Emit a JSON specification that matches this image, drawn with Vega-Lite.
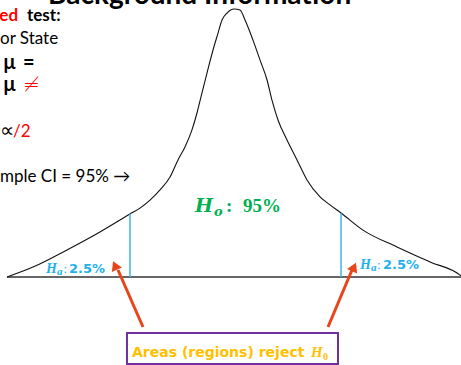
{
  "$schema": "https://vega.github.io/schema/vega-lite/v6.json",
  "width": 461,
  "height": 365,
  "autosize": {"type": "none"},
  "padding": 0,
  "background": "#ffffff",
  "config": {"view": {"stroke": null}},
  "datasets": {
    "curve": [
      {"z": -4.247, "density": 0.0},
      {"z": -3.764, "density": 0.037},
      {"z": -3.132, "density": 0.101},
      {"z": -2.519, "density": 0.168},
      {"z": -1.961, "density": 0.235},
      {"z": -1.775, "density": 0.257},
      {"z": -1.589, "density": 0.287},
      {"z": -1.403, "density": 0.325},
      {"z": -1.217, "density": 0.373},
      {"z": -1.069, "density": 0.437},
      {"z": -0.939, "density": 0.485},
      {"z": -0.809, "density": 0.549},
      {"z": -0.716, "density": 0.612},
      {"z": -0.623, "density": 0.687},
      {"z": -0.53, "density": 0.761},
      {"z": -0.418, "density": 0.847},
      {"z": -0.325, "density": 0.91},
      {"z": -0.251, "density": 0.959},
      {"z": -0.158, "density": 0.985},
      {"z": -0.028, "density": 1.0},
      {"z": 0.084, "density": 0.996},
      {"z": 0.177, "density": 0.959},
      {"z": 0.325, "density": 0.884},
      {"z": 0.455, "density": 0.81},
      {"z": 0.586, "density": 0.735},
      {"z": 0.678, "density": 0.66},
      {"z": 0.79, "density": 0.586},
      {"z": 0.957, "density": 0.511},
      {"z": 1.143, "density": 0.437},
      {"z": 1.329, "density": 0.362},
      {"z": 1.571, "density": 0.299},
      {"z": 1.757, "density": 0.269},
      {"z": 1.961, "density": 0.239},
      {"z": 2.37, "density": 0.175},
      {"z": 3.002, "density": 0.112},
      {"z": 3.615, "density": 0.056},
      {"z": 4.173, "density": 0.007},
      {"z": 4.191, "density": 0.004}
    ],
    "baseline": [{"z": -4.247, "z2": 4.191, "density": 0}],
    "cutoffs": [
      {"z": -1.961, "density": 0, "top": 0.236},
      {"z": 1.961, "density": 0, "top": 0.238}
    ],
    "arrows": [
      {"z": -1.719, "v": -0.1866, "z2": -2.184, "v2": 0.0261},
      {"z": 1.719, "v": -0.1866, "z2": 2.165, "v2": 0.0261}
    ],
    "headLeft": [{"z": -2.24, "v": 0.0429}],
    "headRight": [{"z": 2.203, "v": 0.0373}],
    "box": [{"z": -2.017, "z2": 1.905, "v": -0.209, "v2": -0.3246}],
    "title": [{"text": "Background Information", "z": -3.485, "v": 1.0187}],
    "body": [
      {"text": "or State", "z": -4.377, "v": 0.8694, "tone": "plain"},
      {"text": "/2", "z": -4.136, "v": 0.5224, "tone": "emphasis"},
      {"text": "mple CI = 95% →", "z": -4.377, "v": 0.3545, "tone": "plain"}
    ],
    "bodyBold": [
      {"text": "ed", "z": -4.39, "v": 0.9552, "tone": "emphasis"},
      {"text": "test:", "z": -3.875, "v": 0.9552, "tone": "plain"}
    ],
    "hypBold": [
      {"text": "µ", "z": -4.322, "v": 0.7761, "tone": "plain"},
      {"text": "=", "z": -3.95, "v": 0.7761, "tone": "plain"},
      {"text": "µ", "z": -4.322, "v": 0.694, "tone": "plain"}
    ],
    "symbols": [
      {"text": "≠", "z": -3.95, "v": 0.694, "tone": "emphasis"},
      {"text": "∝", "z": -4.377, "v": 0.5224, "tone": "plain"}
    ],
    "tailLabels": [
      {"side": "left", "part": "symbol", "text": "H", "z": -3.522, "v": 0.0149},
      {"side": "left", "part": "sub", "text": "a", "z": -3.318, "v": 0.0075},
      {"side": "left", "part": "colon", "text": ":", "z": -3.197, "v": 0.0149},
      {"side": "left", "part": "value", "text": "2.5%", "z": -3.095, "v": 0.0149},
      {"side": "right", "part": "symbol", "text": "H", "z": 2.314, "v": 0.0299},
      {"side": "right", "part": "sub", "text": "a", "z": 2.519, "v": 0.0224},
      {"side": "right", "part": "colon", "text": ":", "z": 2.63, "v": 0.0299},
      {"side": "right", "part": "value", "text": "2.5%", "z": 2.742, "v": 0.0299}
    ],
    "centerLabel": [
      {"part": "symbol", "text": "H", "z": -0.7528, "v": 0.2425},
      {"part": "sub", "text": "o", "z": -0.4, "v": 0.2276},
      {"part": "colon", "text": ":", "z": -0.1766, "v": 0.2425},
      {"part": "value", "text": "95%", "z": 0.1394, "v": 0.2425}
    ],
    "callout": [
      {"part": "words", "text": "Areas (regions) reject", "z": -1.9238, "v": -0.2985},
      {"part": "symbol", "text": "H", "z": 1.4033, "v": -0.2985},
      {"part": "sub", "text": "0", "z": 1.6264, "v": -0.3097}
    ]
  },
  "layer": [
    {
      "data": {"name": "baseline"},
      "mark": {"type": "rule", "color": "#333333", "strokeWidth": 1.6},
      "encoding": {
        "x": {"field": "z", "type": "quantitative", "scale": {"domain": [-4.377, 4.191], "nice": false, "zero": false}, "axis": null},
        "x2": {"field": "z2"},
        "y": {"field": "density", "type": "quantitative", "scale": {"domain": [-0.3284, 1.0336], "nice": false, "zero": false}, "axis": null}
      }
    },
    {
      "data": {"name": "curve"},
      "mark": {"type": "line", "color": "#111111", "strokeWidth": 1.1, "interpolate": "monotone"},
      "encoding": {
        "x": {"field": "z", "type": "quantitative", "scale": {"domain": [-4.377, 4.191], "nice": false, "zero": false}, "axis": null},
        "y": {"field": "density", "type": "quantitative", "scale": {"domain": [-0.3284, 1.0336], "nice": false, "zero": false}, "axis": null}
      }
    },
    {
      "data": {"name": "cutoffs"},
      "mark": {"type": "rule", "color": "#3db5e6", "strokeWidth": 1.5},
      "encoding": {
        "x": {"field": "z", "type": "quantitative", "scale": {"domain": [-4.377, 4.191], "nice": false, "zero": false}, "axis": null},
        "y": {"field": "density", "type": "quantitative", "scale": {"domain": [-0.3284, 1.0336], "nice": false, "zero": false}, "axis": null},
        "y2": {"field": "top"}
      }
    },
    {
      "data": {"name": "arrows"},
      "mark": {"type": "rule", "color": "#e8451a", "strokeWidth": 3},
      "encoding": {
        "x": {"field": "z", "type": "quantitative", "scale": {"domain": [-4.377, 4.191], "nice": false, "zero": false}, "axis": null},
        "x2": {"field": "z2"},
        "y": {"field": "v", "type": "quantitative", "scale": {"domain": [-0.3284, 1.0336], "nice": false, "zero": false}, "axis": null},
        "y2": {"field": "v2"}
      }
    },
    {
      "data": {"name": "headLeft"},
      "mark": {"type": "point", "shape": "triangle-up", "filled": true, "size": 120, "angle": -24, "color": "#e8451a", "opacity": 1},
      "encoding": {
        "x": {"field": "z", "type": "quantitative", "scale": {"domain": [-4.377, 4.191], "nice": false, "zero": false}, "axis": null},
        "y": {"field": "v", "type": "quantitative", "scale": {"domain": [-0.3284, 1.0336], "nice": false, "zero": false}, "axis": null}
      }
    },
    {
      "data": {"name": "headRight"},
      "mark": {"type": "point", "shape": "triangle-up", "filled": true, "size": 120, "angle": 24, "color": "#e8451a", "opacity": 1},
      "encoding": {
        "x": {"field": "z", "type": "quantitative", "scale": {"domain": [-4.377, 4.191], "nice": false, "zero": false}, "axis": null},
        "y": {"field": "v", "type": "quantitative", "scale": {"domain": [-0.3284, 1.0336], "nice": false, "zero": false}, "axis": null}
      }
    },
    {
      "data": {"name": "box"},
      "mark": {"type": "rect", "fill": "#ffffff", "stroke": "#7030a0", "strokeWidth": 2},
      "encoding": {
        "x": {"field": "z", "type": "quantitative", "scale": {"domain": [-4.377, 4.191], "nice": false, "zero": false}, "axis": null},
        "x2": {"field": "z2"},
        "y": {"field": "v", "type": "quantitative", "scale": {"domain": [-0.3284, 1.0336], "nice": false, "zero": false}, "axis": null},
        "y2": {"field": "v2"}
      }
    },
    {
      "data": {"name": "title"},
      "mark": {"type": "text", "font": "Lato", "fontWeight": "bold", "fontSize": 28, "align": "left", "baseline": "alphabetic", "color": "#000000"},
      "encoding": {
        "x": {"field": "z", "type": "quantitative", "scale": {"domain": [-4.377, 4.191], "nice": false, "zero": false}, "axis": null},
        "y": {"field": "v", "type": "quantitative", "scale": {"domain": [-0.3284, 1.0336], "nice": false, "zero": false}, "axis": null},
        "text": {"field": "text"}
      }
    },
    {
      "data": {"name": "body"},
      "mark": {"type": "text", "font": "Lato", "fontSize": 17, "align": "left", "baseline": "alphabetic"},
      "encoding": {
        "x": {"field": "z", "type": "quantitative", "scale": {"domain": [-4.377, 4.191], "nice": false, "zero": false}, "axis": null},
        "y": {"field": "v", "type": "quantitative", "scale": {"domain": [-0.3284, 1.0336], "nice": false, "zero": false}, "axis": null},
        "text": {"field": "text"},
        "color": {"field": "tone", "type": "nominal", "scale": {"domain": ["plain", "emphasis"], "range": ["#000000", "#ff0000"]}, "legend": null}
      }
    },
    {
      "data": {"name": "bodyBold"},
      "mark": {"type": "text", "font": "Lato", "fontWeight": "bold", "fontSize": 17, "align": "left", "baseline": "alphabetic"},
      "encoding": {
        "x": {"field": "z", "type": "quantitative", "scale": {"domain": [-4.377, 4.191], "nice": false, "zero": false}, "axis": null},
        "y": {"field": "v", "type": "quantitative", "scale": {"domain": [-0.3284, 1.0336], "nice": false, "zero": false}, "axis": null},
        "text": {"field": "text"},
        "color": {"field": "tone", "type": "nominal", "scale": {"domain": ["plain", "emphasis"], "range": ["#000000", "#ff0000"]}, "legend": null}
      }
    },
    {
      "data": {"name": "hypBold"},
      "mark": {"type": "text", "font": "Lato", "fontWeight": "bold", "fontSize": 20, "align": "left", "baseline": "alphabetic"},
      "encoding": {
        "x": {"field": "z", "type": "quantitative", "scale": {"domain": [-4.377, 4.191], "nice": false, "zero": false}, "axis": null},
        "y": {"field": "v", "type": "quantitative", "scale": {"domain": [-0.3284, 1.0336], "nice": false, "zero": false}, "axis": null},
        "text": {"field": "text"},
        "color": {"field": "tone", "type": "nominal", "scale": {"domain": ["plain", "emphasis"], "range": ["#000000", "#ff0000"]}, "legend": null}
      }
    },
    {
      "data": {"name": "symbols"},
      "mark": {"type": "text", "font": "DejaVu Sans", "fontWeight": 300, "fontSize": 20, "align": "left", "baseline": "alphabetic"},
      "encoding": {
        "x": {"field": "z", "type": "quantitative", "scale": {"domain": [-4.377, 4.191], "nice": false, "zero": false}, "axis": null},
        "y": {"field": "v", "type": "quantitative", "scale": {"domain": [-0.3284, 1.0336], "nice": false, "zero": false}, "axis": null},
        "text": {"field": "text"},
        "color": {"field": "tone", "type": "nominal", "scale": {"domain": ["plain", "emphasis"], "range": ["#000000", "#ff0000"]}, "legend": null}
      }
    },
    {
      "data": {"name": "tailLabels"},
      "transform": [{"filter": "datum.part === 'symbol'"}],
      "mark": {"type": "text", "font": "Liberation Serif", "fontWeight": "bold", "fontStyle": "italic", "fontSize": 14, "align": "left", "baseline": "alphabetic", "color": "#1fb1ec"},
      "encoding": {
        "x": {"field": "z", "type": "quantitative", "scale": {"domain": [-4.377, 4.191], "nice": false, "zero": false}, "axis": null},
        "y": {"field": "v", "type": "quantitative", "scale": {"domain": [-0.3284, 1.0336], "nice": false, "zero": false}, "axis": null},
        "text": {"field": "text"}
      }
    },
    {
      "data": {"name": "tailLabels"},
      "transform": [{"filter": "datum.part === 'sub'"}],
      "mark": {"type": "text", "font": "Liberation Serif", "fontWeight": "bold", "fontStyle": "italic", "fontSize": 11, "align": "left", "baseline": "alphabetic", "color": "#1fb1ec"},
      "encoding": {
        "x": {"field": "z", "type": "quantitative", "scale": {"domain": [-4.377, 4.191], "nice": false, "zero": false}, "axis": null},
        "y": {"field": "v", "type": "quantitative", "scale": {"domain": [-0.3284, 1.0336], "nice": false, "zero": false}, "axis": null},
        "text": {"field": "text"}
      }
    },
    {
      "data": {"name": "tailLabels"},
      "transform": [{"filter": "datum.part === 'colon'"}],
      "mark": {"type": "text", "font": "Liberation Serif", "fontSize": 13, "align": "left", "baseline": "alphabetic", "color": "#1fb1ec"},
      "encoding": {
        "x": {"field": "z", "type": "quantitative", "scale": {"domain": [-4.377, 4.191], "nice": false, "zero": false}, "axis": null},
        "y": {"field": "v", "type": "quantitative", "scale": {"domain": [-0.3284, 1.0336], "nice": false, "zero": false}, "axis": null},
        "text": {"field": "text"}
      }
    },
    {
      "data": {"name": "tailLabels"},
      "transform": [{"filter": "datum.part === 'value'"}],
      "mark": {"type": "text", "font": "DejaVu Sans", "fontWeight": "bold", "fontSize": 13, "align": "left", "baseline": "alphabetic", "color": "#1fb1ec"},
      "encoding": {
        "x": {"field": "z", "type": "quantitative", "scale": {"domain": [-4.377, 4.191], "nice": false, "zero": false}, "axis": null},
        "y": {"field": "v", "type": "quantitative", "scale": {"domain": [-0.3284, 1.0336], "nice": false, "zero": false}, "axis": null},
        "text": {"field": "text"}
      }
    },
    {
      "data": {"name": "centerLabel"},
      "transform": [{"filter": "datum.part === 'symbol'"}],
      "mark": {"type": "text", "font": "DejaVu Serif", "fontWeight": "bold", "fontStyle": "italic", "fontSize": 19, "align": "left", "baseline": "alphabetic", "color": "#00b050"},
      "encoding": {
        "x": {"field": "z", "type": "quantitative", "scale": {"domain": [-4.377, 4.191], "nice": false, "zero": false}, "axis": null},
        "y": {"field": "v", "type": "quantitative", "scale": {"domain": [-0.3284, 1.0336], "nice": false, "zero": false}, "axis": null},
        "text": {"field": "text"}
      }
    },
    {
      "data": {"name": "centerLabel"},
      "transform": [{"filter": "datum.part === 'sub'"}],
      "mark": {"type": "text", "font": "DejaVu Serif", "fontWeight": "bold", "fontStyle": "italic", "fontSize": 13, "align": "left", "baseline": "alphabetic", "color": "#00b050"},
      "encoding": {
        "x": {"field": "z", "type": "quantitative", "scale": {"domain": [-4.377, 4.191], "nice": false, "zero": false}, "axis": null},
        "y": {"field": "v", "type": "quantitative", "scale": {"domain": [-0.3284, 1.0336], "nice": false, "zero": false}, "axis": null},
        "text": {"field": "text"}
      }
    },
    {
      "data": {"name": "centerLabel"},
      "transform": [{"filter": "datum.part === 'colon' || datum.part === 'value'"}],
      "mark": {"type": "text", "font": "Liberation Serif", "fontWeight": "bold", "fontSize": 19, "align": "left", "baseline": "alphabetic", "color": "#00b050"},
      "encoding": {
        "x": {"field": "z", "type": "quantitative", "scale": {"domain": [-4.377, 4.191], "nice": false, "zero": false}, "axis": null},
        "y": {"field": "v", "type": "quantitative", "scale": {"domain": [-0.3284, 1.0336], "nice": false, "zero": false}, "axis": null},
        "text": {"field": "text"}
      }
    },
    {
      "data": {"name": "callout"},
      "transform": [{"filter": "datum.part === 'words'"}],
      "mark": {"type": "text", "font": "DejaVu Sans", "fontWeight": "bold", "fontSize": 14, "align": "left", "baseline": "alphabetic", "color": "#ffc000"},
      "encoding": {
        "x": {"field": "z", "type": "quantitative", "scale": {"domain": [-4.377, 4.191], "nice": false, "zero": false}, "axis": null},
        "y": {"field": "v", "type": "quantitative", "scale": {"domain": [-0.3284, 1.0336], "nice": false, "zero": false}, "axis": null},
        "text": {"field": "text"}
      }
    },
    {
      "data": {"name": "callout"},
      "transform": [{"filter": "datum.part === 'symbol'"}],
      "mark": {"type": "text", "font": "Liberation Serif", "fontWeight": "bold", "fontStyle": "italic", "fontSize": 15, "align": "left", "baseline": "alphabetic", "color": "#ffc000"},
      "encoding": {
        "x": {"field": "z", "type": "quantitative", "scale": {"domain": [-4.377, 4.191], "nice": false, "zero": false}, "axis": null},
        "y": {"field": "v", "type": "quantitative", "scale": {"domain": [-0.3284, 1.0336], "nice": false, "zero": false}, "axis": null},
        "text": {"field": "text"}
      }
    },
    {
      "data": {"name": "callout"},
      "transform": [{"filter": "datum.part === 'sub'"}],
      "mark": {"type": "text", "font": "Liberation Serif", "fontWeight": "bold", "fontSize": 10, "align": "left", "baseline": "alphabetic", "color": "#ffc000"},
      "encoding": {
        "x": {"field": "z", "type": "quantitative", "scale": {"domain": [-4.377, 4.191], "nice": false, "zero": false}, "axis": null},
        "y": {"field": "v", "type": "quantitative", "scale": {"domain": [-0.3284, 1.0336], "nice": false, "zero": false}, "axis": null},
        "text": {"field": "text"}
      }
    }
  ]
}
